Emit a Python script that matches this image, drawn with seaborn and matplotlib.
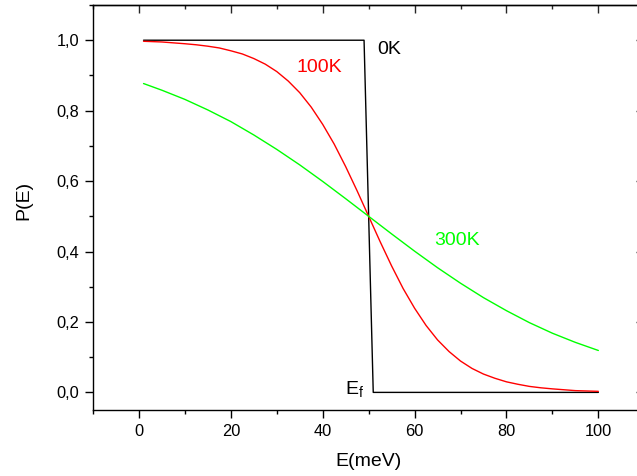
import matplotlib

matplotlib.use("Agg")
import matplotlib.pyplot as plt
import pandas as pd
import seaborn as sns
from matplotlib.ticker import FuncFormatter, MultipleLocator

# values
energy_0k = [1, 49, 51, 100]
prob_0k = [1.0, 1.0, 0.0, 0.0]

energy_100k = [1, 5, 10, 12.5, 15, 17.5, 20, 22.5, 25, 27.5, 30, 32.5, 35, 37.5,
               40, 42.5, 45, 47.5, 50, 52.5, 55, 57.5, 60, 62.5, 65, 67.5, 70,
               72.5, 75, 77.5, 80, 82.5, 85, 87.5, 90, 95, 100]
prob_100k = [0.997, 0.995, 0.990, 0.987, 0.983, 0.978, 0.970, 0.961, 0.948, 0.932,
             0.911, 0.884, 0.851, 0.810, 0.761, 0.705, 0.641, 0.572, 0.500, 0.428,
             0.359, 0.295, 0.239, 0.190, 0.149, 0.116, 0.089, 0.068, 0.052, 0.040,
             0.030, 0.023, 0.017, 0.013, 0.010, 0.005, 0.003]

energy_300k = [1, 5, 10, 15, 20, 25, 30, 35, 40, 45, 50,
               55, 60, 65, 70, 75, 80, 85, 90, 95, 100]
prob_300k = [0.877, 0.858, 0.832, 0.802, 0.769, 0.731, 0.690, 0.646, 0.599, 0.550, 0.500,
             0.450, 0.401, 0.354, 0.310, 0.269, 0.232, 0.198, 0.168, 0.142, 0.119]

labels = ["0K", "100K", "300K"]
colors = ["black", "#ff0000", "#00ff00"]

sns.set_theme(style="white")
plt.rcParams["font.family"] = ["Liberation Sans", "DejaVu Sans"]
plt.rcParams["mathtext.fontset"] = "custom"
plt.rcParams["mathtext.rm"] = "Liberation Sans"

fig = plt.figure(figsize=(6.37, 4.76), dpi=100)
ax = fig.add_axes([93 / 637, 1 - 410 / 476, (644.3 - 93) / 637, 405 / 476])

series = [(energy_0k, prob_0k), (energy_100k, prob_100k), (energy_300k, prob_300k)]
for (e, p), lab, col in zip(series, labels, colors):
    df = pd.DataFrame({"E": e, "P": p})
    sns.lineplot(data=df, x="E", y="P", ax=ax, color=col, linewidth=1.0,
                 sort=False, estimator=None)

ax.set_xlim(-10, 110)
ax.set_ylim(-0.05, 1.1)
ax.xaxis.set_major_locator(MultipleLocator(20))
ax.xaxis.set_minor_locator(MultipleLocator(10))
ax.yaxis.set_major_locator(MultipleLocator(0.2))
ax.yaxis.set_minor_locator(MultipleLocator(0.1))
ax.yaxis.set_major_formatter(FuncFormatter(lambda v, _: f"{v:.1f}".replace(".", ",")))

for s in ax.spines.values():
    s.set_linewidth(1.0)
    s.set_color("black")

ax.tick_params(which="both", direction="out", bottom=True, left=True,
               top=False, right=False, width=1.0, color="black",
               labelsize=11.8, labelcolor="black", pad=4)
ax.tick_params(which="major", length=5.8)
ax.tick_params(which="minor", length=2.9)

top = ax.secondary_xaxis("top")
top.xaxis.set_major_locator(MultipleLocator(20))
top.xaxis.set_minor_locator(MultipleLocator(10))
top.tick_params(which="both", direction="in", labeltop=False, width=1.0)
top.tick_params(which="major", length=5.8)
top.tick_params(which="minor", length=2.9)
top.spines["top"].set_linewidth(1.0)

right = ax.secondary_yaxis("right")
right.yaxis.set_major_locator(MultipleLocator(0.2))
right.yaxis.set_minor_locator(MultipleLocator(0.1))
right.tick_params(which="both", direction="in", labelright=False, width=1.0)
right.tick_params(which="major", length=5.8)
right.tick_params(which="minor", length=2.9)

ax.set_xlabel("E(meV)", fontsize=14, color="black")
ax.set_ylabel("P(E)", fontsize=14, color="black")
ax.xaxis.set_label_coords(0.5, -43 / 405, transform=ax.transAxes)
ax.yaxis.set_label_coords(-60.5 / 551.3, (410 - 200) / 405, transform=ax.transAxes)

ax.text(51.8, 0.974, "0K", fontsize=14, color="black", ha="left", va="center")
ax.text(34.2, 0.923, "100K", fontsize=14, color="#ff0000", ha="left", va="center")
ax.text(64.3, 0.431, "300K", fontsize=14, color="#00ff00", ha="left", va="center")
ax.text(44.9, 0.007, r"E$_\mathregular{f}$", fontsize=14, color="black",
        ha="left", va="center")

fig.savefig("out.png", dpi=100)
